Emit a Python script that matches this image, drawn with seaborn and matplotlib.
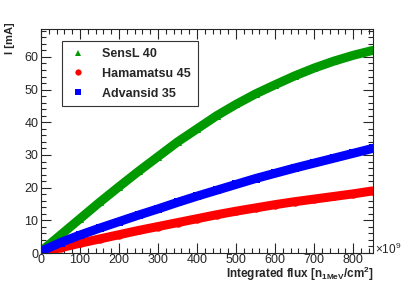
import matplotlib
matplotlib.use("Agg")
import matplotlib.pyplot as plt
import pandas as pd
import seaborn as sns
from matplotlib.ticker import MultipleLocator

# flux in units of 1e9 n_1MeV/cm^2, current in mA
flux = [0, 50, 100, 150, 200, 250, 300, 350, 400, 450, 500, 550, 600, 650, 700, 750, 800, 850]
sensl = [0.5, 5.5, 10.5, 15.5, 20.3, 25.0, 29.5, 34.0, 38.0, 42.0, 45.5, 48.7, 51.5, 54.2, 56.6, 58.7, 60.5, 62.0]
hamamatsu = [0.0, 1.6, 3.0, 4.3, 5.6, 6.9, 8.1, 9.3, 10.5, 11.7, 12.8, 13.8, 14.8, 15.7, 16.5, 17.3, 18.1, 19.0]
advansid = [0.5, 3.2, 5.5, 7.6, 9.6, 11.6, 13.5, 15.5, 17.4, 19.2, 21.0, 22.8, 24.4, 26.0, 27.5, 29.0, 30.5, 32.0]

labels = ["SensL 40", "Hamamatsu 45", "Advansid 35"]
colors = ["#009900", "#ff0000", "#0000ff"]
markers = ["^", "o", "s"]

df = pd.DataFrame({"flux": flux * 3,
                   "current": sensl + hamamatsu + advansid,
                   "device": [labels[0]] * len(flux) + [labels[1]] * len(flux) + [labels[2]] * len(flux)})

sns.set_style("ticks")
plt.rcParams["font.family"] = ["Liberation Sans", "DejaVu Sans"]
plt.rcParams["mathtext.fontset"] = "custom"
plt.rcParams["mathtext.rm"] = "Liberation Sans"
plt.rcParams["mathtext.bf"] = "Liberation Sans:bold"

fig = plt.figure(figsize=(4.15, 2.83), dpi=100)
ax = fig.add_axes([0.0988, 0.106, 0.8, 0.792])

for lab, col, mk in zip(labels, colors, markers):
    sub = df[df["device"] == lab]
    sns.lineplot(data=sub, x="flux", y="current", ax=ax, color=col, linewidth=6.5,
                 marker=mk, markersize=6, markeredgewidth=0, label=lab, legend=False)

ax.set_xlim(0, 851)
ax.set_ylim(0, 68.6)
ax.xaxis.set_major_locator(MultipleLocator(100))
ax.xaxis.set_minor_locator(MultipleLocator(20))
ax.yaxis.set_major_locator(MultipleLocator(10))
ax.yaxis.set_minor_locator(MultipleLocator(2))
ax.tick_params(which="both", direction="in", top=True, right=True, labelsize=9)
ax.tick_params(axis="x", which="both", pad=0.5)
ax.tick_params(axis="y", which="both", pad=2.0)
ax.tick_params(which="major", length=7, width=0.8)
ax.tick_params(which="minor", length=3.5, width=0.8)
for s in ax.spines.values():
    s.set_linewidth(0.8)

ax.set_xlabel("")
ax.set_ylabel("")
fig.text(0.9, 0.019, r"Integrated flux [n$_{\mathbf{1MeV}}$/cm$^{\mathbf{2}}$]", ha="right", va="baseline",
         fontsize=8.5, fontweight="bold")
fig.text(0.012, 0.92, "I [mA]", rotation=90, ha="left", va="top", fontsize=8, fontweight="bold")
fig.text(0.903, 0.118, r"$\times$10$^{9}$", ha="left", va="center", fontsize=8.5)

handles = [plt.Line2D([], [], color=c, marker=m, linestyle="none", markersize=4.5, markeredgewidth=0)
           for c, m in zip(colors, markers)]
leg = ax.legend(handles, labels, loc="upper left", bbox_to_anchor=(0.062, 0.945), frameon=True,
                fancybox=False, edgecolor="black", prop={"weight": "bold", "size": 9},
                handletextpad=1.1, borderpad=0.55, labelspacing=0.62, handlelength=1.6,
                borderaxespad=0)
leg.get_frame().set_linewidth(0.8)

fig.savefig("out.png", dpi=100)
